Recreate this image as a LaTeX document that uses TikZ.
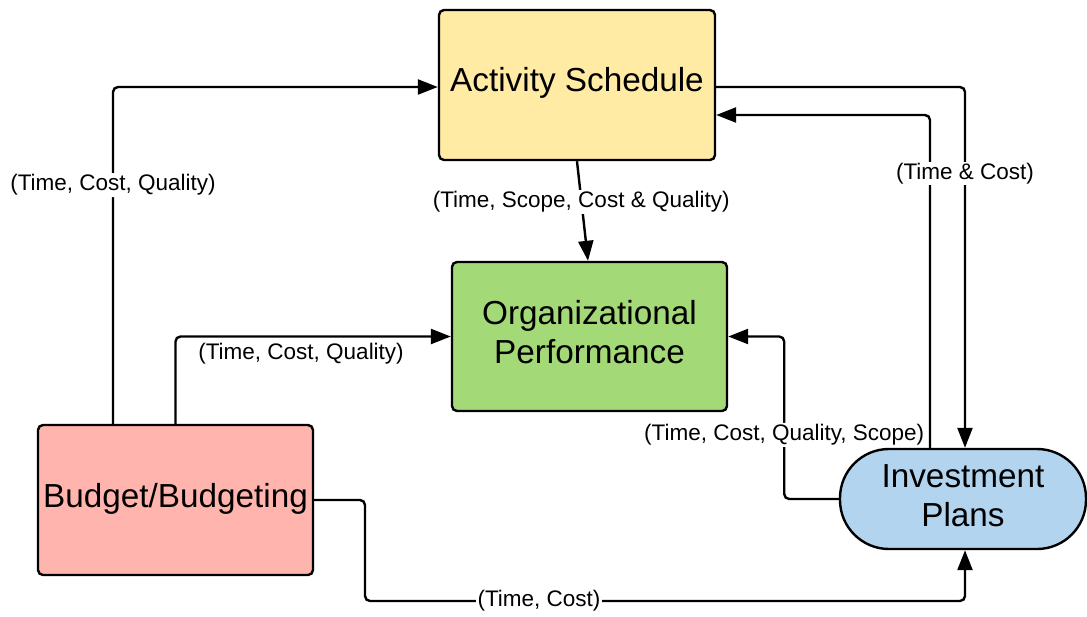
\documentclass[tikz,border=0pt]{standalone}
\usepackage{fontspec}
\setmainfont{Liberation Sans}
\usetikzlibrary{arrows.meta}
\definecolor{cyellow}{HTML}{FFEBA4}
\definecolor{cgreen}{HTML}{A3D977}
\definecolor{cpink}{HTML}{FFB5AD}
\definecolor{cblue}{HTML}{B3D4EF}
\tikzset{
  box/.style={draw=black, line width=2.4pt, rounded corners=5pt, align=center,
    font=\fontsize{33.3}{39}\selectfont, inner sep=0pt},
  boxtext/.style={align=center, font=\fontsize{33.3}{39}\selectfont, inner sep=0pt},
  arr/.style={line width=2.4pt, rounded corners=5pt,
    -{Triangle[length=20pt,width=15pt]}},
  lab/.style={font=\fontsize{22.5}{26}\selectfont, fill=white, inner sep=1.5pt, yshift=-2.5pt},
  labnf/.style={font=\fontsize{22.5}{26}\selectfont, inner sep=1.5pt}
}
\begin{document}
\begin{tikzpicture}[x=1pt,y=-1pt]
\useasboundingbox (0,0) rectangle (1087,616);
\node[box, fill=cyellow, minimum width=276pt, minimum height=150pt,
  label={[boxtext, yshift=2pt]center:Activity Schedule}] (act) at (577,85) {};
\node[box, fill=cgreen, minimum width=275pt, minimum height=149pt,
  label={[boxtext, yshift=4pt]center:Organizational\\Performance}] (org) at (589.5,336.5) {};
\node[box, fill=cpink, minimum width=275pt, minimum height=150pt,
  label={[boxtext, yshift=1pt]center:Budget/Budgeting}] (bud) at (175.5,500) {};
\node[box, fill=cblue, minimum width=246pt, minimum height=100pt, rounded corners=49pt,
  label={[boxtext, yshift=3.5pt]center:Investment\\Plans}] (inv) at (963,499) {};
\coordinate (b1) at (365,601);
% Budget -> Activity
\draw[arr] ([xshift=-62.5pt]bud.north) |- node[lab, pos=0.358] {(Time, Cost, Quality)} ([yshift=-2pt]act.west);
% Budget -> Org
\draw[arr] (bud.north) |- node[labnf, pos=0.728, below, yshift=-3.5pt] {(Time, Cost, Quality)} (org.west);
% Activity -> Org
\draw[arr, rounded corners=0pt] (act.south) -- node[lab, pos=0.38] {(Time, Scope, Cost \& Quality)} ([xshift=-1.5pt]org.north);
% Activity -> Investment
\draw[arr] ([yshift=-2pt]act.east) -| ([xshift=2pt]inv.north);
% Investment -> Activity
\draw[arr] ([xshift=-33pt]inv.north) |- ([yshift=-30pt]act.east);
\node[lab] (l4) at (965,171) {(Time \& Cost)};
% Investment -> Org
\draw[arr] (inv.west) -| node[lab, pos=0.705] {(Time, Cost, Quality, Scope)} ([xshift=56pt]org.east) -- (org.east);
% Budget -> Investment
\draw[arr] (bud.east) -| (b1) -| node[lab, pos=0.145, yshift=2.5pt] {(Time, Cost)} ([xshift=2pt]inv.south);
\end{tikzpicture}
\end{document}
